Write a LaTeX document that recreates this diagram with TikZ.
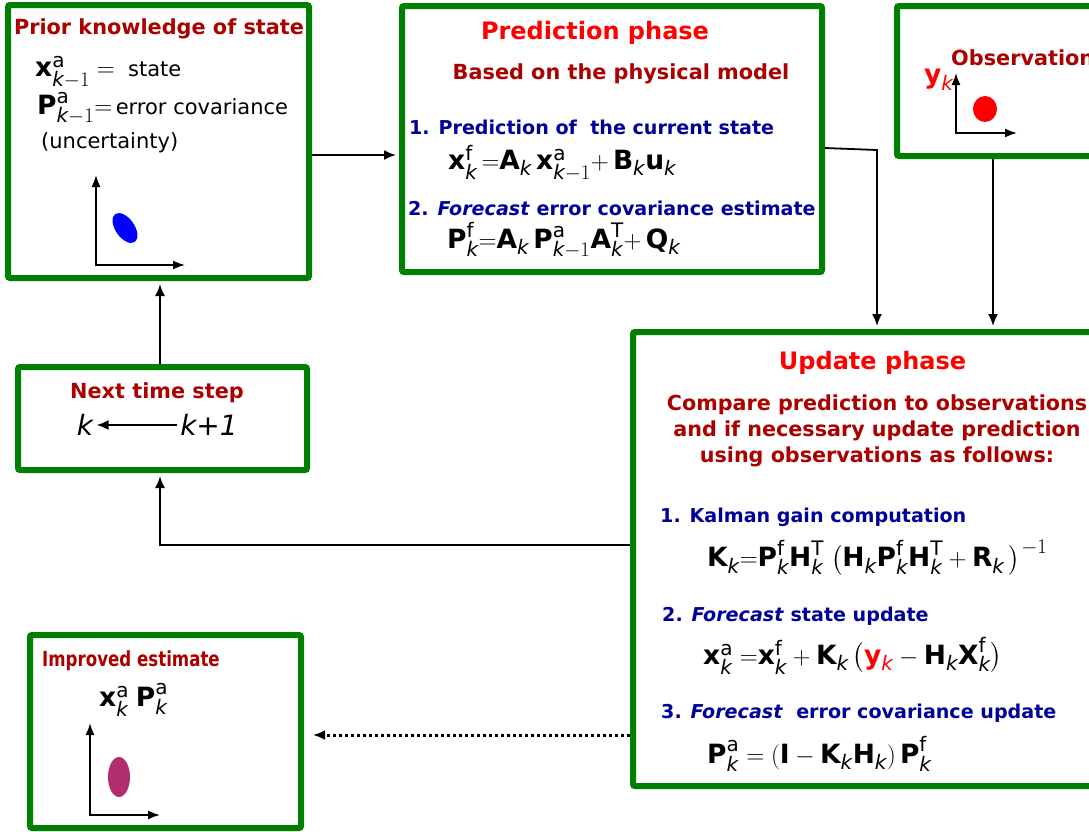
\documentclass[tikz,border=0pt]{standalone}
\usepackage{amsmath}
\usepackage{fontspec}
\setmainfont{DejaVu Sans}
\usepackage{xcolor}
\usetikzlibrary{positioning, arrows.meta}

\definecolor{boxgreen}{RGB}{0,128,0}
\definecolor{titlered}{RGB}{170,0,0}
\definecolor{stepblue}{RGB}{0,0,153}
\definecolor{estpurple}{RGB}{178,45,110}

\DeclareMathSizes{26.5}{26.5}{20}{15}
\newcommand{\bv}[1]{\textbf{#1}}
\newcommand{\ix}[1]{\text{\itshape #1}}
\newcommand{\up}[1]{\text{#1}}
\newcommand{\bigmath}[1]{{\fontsize{26.5}{30}\selectfont$#1$}}

\begin{document}
\begin{tikzpicture}[x=1pt, y=-1pt,
   panel/.style={draw=boxgreen, line width=6pt, rounded corners=2pt, inner sep=0pt},
   ttl/.style={text=titlered, font=\fontsize{20.8}{26}\selectfont\bfseries},
   phase/.style={text=red, font=\fontsize{24}{30}\selectfont\bfseries},
   item/.style={text=stepblue, font=\fontsize{19.1}{23}\selectfont\bfseries, anchor=west, inner sep=0pt},
   eqn/.style={font=\fontsize{26.5}{30}\selectfont, anchor=west, inner sep=0pt},
   txt/.style={font=\fontsize{21}{25}\selectfont, anchor=west, inner sep=0pt},
   flow/.style={-{Latex[length=12pt,width=10pt]}, line width=1.8pt, shorten >=3pt},
   axes/.style={{Latex[length=12pt,width=9pt]}-{Latex[length=12pt,width=9pt]}, line width=1.6pt}]
   \useasboundingbox (0,0) rectangle (1089,831);

   % boxes
   \node[panel, minimum width=301pt, minimum height=273pt] (prior) at (158.5,141.5) {};
   \node[panel, minimum width=420pt, minimum height=266pt] (pred) at (612,139) {};
   \node[panel, minimum width=213pt, minimum height=150pt] (obs) at (1003.5,81) {};
   \node[panel, minimum width=477pt, minimum height=454pt] (upd) at (871.5,559) {};
   \node[panel, minimum width=289pt, minimum height=103pt] (next) at (162.5,418.5) {};
   \node[panel, minimum width=271pt, minimum height=193pt] (imp) at (165.5,731.5) {};

   % prior knowledge
   \node[ttl] (priorttl) at (159,29) {Prior knowledge of state};
   \node[txt] (priorx) at (35,72) {\bigmath{\bv{x}^{\up{a}}_{\ix{k}-1} =}\ \ state};
   \node[txt] (priorp) at (37,108) {\bigmath{\bv{P}^{\up{a}}_{\ix{k}-1}{=}}\,error covariance};
   \node[txt] (priorunc) at (41,143) {(uncertainty)};
   \draw[axes] (96,175) |- (185,265);
   \fill[blue, rotate around={35:(125,228)}] (125,228) ellipse [x radius=9.5pt, y radius=17pt];

   % prediction phase
   \node[phase] (predttl) at (595,33) {Prediction phase};
   \node[ttl] (predsub) at (621,74) {Based on the physical model};
   \node[item] (pred1) at (409,127) {1. Prediction of \ the current state};
   \node[eqn] (predeq1) at (448,163) {$\bv{x}^{\up{f}}_{\ix{k}}\,{=}\bv{A}_{\ix{k}}\,\bv{x}^{\up{a}}_{\ix{k}-1}{+}\,\bv{B}_{\ix{k}}\bv{u}_{\ix{k}}$};
   \node[item] (pred2) at (408,208) {2. \textit{Forecast} error covariance estimate};
   \node[eqn] (predeq2) at (447,240) {$\bv{P}^{\up{f}}_{\ix{k}}{=}\bv{A}_{\ix{k}}\,\bv{P}^{\up{a}}_{\ix{k}-1}\bv{A}^{\up{T}}_{\ix{k}}{+}\,\bv{Q}_{\ix{k}}$};

   % observations
   \node[ttl, anchor=west, inner sep=0pt] (obsttl) at (951,58) {Observations};
   \node[eqn, text=red] (obsy) at (924,80) {$\bv{y}_{\ix{k}}$};
   \draw[axes] (956,73) |- (1017,133);
   \fill[red] (985,109) ellipse [x radius=12pt, y radius=13pt];

   % update phase
   \node[phase] (updttl) at (872.5,363) {Update phase};
   \node[ttl, align=center, font=\fontsize{20.7}{26}\selectfont\bfseries] (updsub) at (877,431)
      {Compare prediction to observations\\and if necessary update prediction\\using observations as follows:};
   \node[item] (upd1) at (660,517) {1. Kalman gain computation};
   \node[eqn] (updeq1) at (707,558) {$\bv{K}_{\ix{k}}{=}\bv{P}^{\up{f}}_{\ix{k}}\bv{H}^{\up{T}}_{\ix{k}}\;\bigl(\bv{H}_{\ix{k}}\bv{P}^{\up{f}}_{\ix{k}}\bv{H}^{\up{T}}_{\ix{k}} + \bv{R}_{\ix{k}}\,\bigr)^{\!\!\!\;\;-1}$};
   \node[item] (upd2) at (662,616) {2. \textit{Forecast} state update};
   \node[eqn] (updeq2) at (703,656) {$\bv{x}^{\up{a}}_{\ix{k}}\;{=}\bv{x}^{\up{f}}_{\ix{k}} + \bv{K}_{\ix{k}}\,\bigl(\textcolor{red}{\bv{y}_{\ix{k}}} - \bv{H}_{\ix{k}}\bv{X}^{\up{f}}_{\ix{k}}\bigr)$};
   \node[item] (upd3) at (661,713) {3. \textit{Forecast} \ error covariance update};
   \node[eqn] (updeq3) at (707,754) {$\bv{P}^{\up{a}}_{\ix{k}} = (\bv{I} - \bv{K}_{\ix{k}}\bv{H}_{\ix{k}})\,\bv{P}^{\up{f}}_{\ix{k}}$};

   % next time step
   \node[ttl] (nextttl) at (157,393) {Next time step};
   \node[font=\fontsize{28}{32}\selectfont\itshape] (kold) at (85,425) {k};
   \node[font=\fontsize{28}{32}\selectfont\itshape] (knew) at (209,425) {k+1};
   \draw[flow, shorten >=0pt] (knew) -- (kold);

   % improved estimate
   \node[ttl] (impttl) at (131,661) {\scalebox{0.8}[1]{Improved estimate}};
   \node[eqn] (impeq) at (99,700) {$\bv{x}^{\up{a}}_{\ix{k}}\;\bv{P}^{\up{a}}_{\ix{k}}$};
   \draw[axes] (90,723) |- (160,815);
   \fill[estpurple] (119,777) ellipse [x radius=11pt, y radius=20pt];

   % connectors
   \coordinate (c0) at (0,155);
   \coordinate (c1) at (877,150);
   \coordinate (c2) at (993,0);
   \coordinate (c3) at (160,545);
   \coordinate (c4) at (0,735);
   \draw[flow] (c0 -| prior.east) -- (c0 -| pred.west);
   \draw[flow] ([yshift=-9pt]pred.east) -- (c1) -- (c1 |- upd.north);
   \draw[flow] (c2 |- obs.south) -- (c2 |- upd.north);
   \draw[flow] (c3 -| upd.west) -- (c3) -- (c3 |- next.south);
   \draw[flow] (c3 |- next.north) -- (c3 |- prior.south);
   \draw[flow, line width=3pt, dash pattern=on 3pt off 3pt, shorten >=9pt] (c4 -| upd.west) -- (c4 -| imp.east);
\end{tikzpicture}
\end{document}
